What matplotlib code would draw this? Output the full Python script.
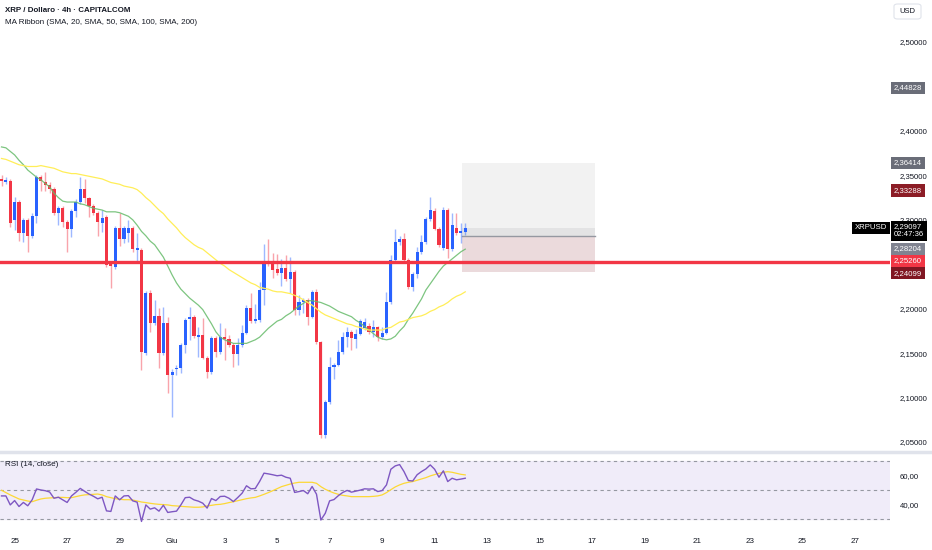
import matplotlib
matplotlib.use("Agg")
import matplotlib.pyplot as plt
import matplotlib.transforms as mtransforms
from matplotlib.lines import Line2D
from matplotlib.patches import Rectangle, FancyBboxPatch

plt.rcParams['font.family'] = ['Liberation Sans', 'DejaVu Sans']

# ---------------- data ----------------
opens = [2.346, 2.343, 2.344, 2.300, 2.320, 2.285, 2.300, 2.282, 2.304, 2.348,
         2.343, 2.339, 2.335, 2.308, 2.313, 2.298, 2.290, 2.310, 2.320, 2.335,
         2.324, 2.316, 2.308, 2.296, 2.303, 2.252, 2.247, 2.291, 2.278, 2.285,
         2.291, 2.266, 2.266, 2.150, 2.218, 2.184, 2.192, 2.150, 2.184, 2.125,
         2.132, 2.133, 2.159, 2.188, 2.191, 2.168, 2.170, 2.145, 2.129, 2.167,
         2.151, 2.168, 2.166, 2.159, 2.149, 2.159, 2.173, 2.201, 2.186, 2.187,
         2.221, 2.252, 2.251, 2.245, 2.240, 2.246, 2.233, 2.241, 2.198, 2.207,
         2.210, 2.191, 2.219, 2.162, 2.058, 2.095, 2.134, 2.137, 2.151, 2.168,
         2.174, 2.166, 2.172, 2.178, 2.180, 2.174, 2.179, 2.168, 2.173, 2.207,
         2.255, 2.275, 2.278, 2.255, 2.224, 2.239, 2.264, 2.275, 2.301, 2.310,
         2.290, 2.268, 2.311, 2.267, 2.291, 2.285, 2.286]
highs = [2.350, 2.348, 2.346, 2.326, 2.322, 2.302, 2.302, 2.308, 2.350, 2.350,
         2.354, 2.342, 2.337, 2.316, 2.315, 2.300, 2.312, 2.323, 2.348, 2.346,
         2.326, 2.318, 2.310, 2.311, 2.305, 2.254, 2.293, 2.308, 2.293, 2.300,
         2.293, 2.285, 2.268, 2.220, 2.221, 2.210, 2.201, 2.202, 2.191, 2.132,
         2.137, 2.161, 2.189, 2.202, 2.193, 2.179, 2.190, 2.147, 2.169, 2.169,
         2.184, 2.178, 2.170, 2.161, 2.167, 2.182, 2.204, 2.218, 2.205, 2.230,
         2.273, 2.278, 2.263, 2.261, 2.256, 2.260, 2.258, 2.243, 2.215, 2.212,
         2.212, 2.221, 2.222, 2.164, 2.097, 2.146, 2.139, 2.165, 2.174, 2.179,
         2.176, 2.177, 2.188, 2.189, 2.184, 2.187, 2.181, 2.179, 2.219, 2.260,
         2.290, 2.282, 2.285, 2.257, 2.241, 2.269, 2.283, 2.303, 2.326, 2.313,
         2.292, 2.314, 2.313, 2.308, 2.308, 2.296, 2.296]
lows = [2.338, 2.340, 2.292, 2.289, 2.276, 2.275, 2.264, 2.280, 2.296, 2.332,
        2.332, 2.330, 2.305, 2.294, 2.292, 2.264, 2.281, 2.303, 2.318, 2.319,
        2.303, 2.305, 2.282, 2.286, 2.247, 2.223, 2.245, 2.270, 2.274, 2.275,
        2.264, 2.252, 2.131, 2.148, 2.174, 2.182, 2.133, 2.148, 2.105, 2.078,
        2.125, 2.128, 2.150, 2.165, 2.167, 2.146, 2.143, 2.122, 2.127, 2.146,
        2.149, 2.142, 2.157, 2.134, 2.137, 2.157, 2.171, 2.184, 2.184, 2.185,
        2.204, 2.248, 2.235, 2.238, 2.226, 2.231, 2.218, 2.193, 2.193, 2.195,
        2.182, 2.189, 2.160, 2.055, 2.055, 2.093, 2.121, 2.135, 2.149, 2.157,
        2.153, 2.156, 2.170, 2.176, 2.172, 2.168, 2.164, 2.166, 2.171, 2.205,
        2.251, 2.272, 2.253, 2.222, 2.220, 2.235, 2.262, 2.273, 2.299, 2.288,
        2.269, 2.266, 2.257, 2.265, 2.283, 2.274, 2.283]
closes = [2.344, 2.345, 2.296, 2.320, 2.285, 2.300, 2.282, 2.304, 2.348, 2.344,
          2.339, 2.335, 2.308, 2.313, 2.297, 2.290, 2.310, 2.320, 2.335, 2.325,
          2.316, 2.308, 2.297, 2.302, 2.249, 2.248, 2.291, 2.278, 2.291, 2.291,
          2.267, 2.268, 2.151, 2.218, 2.184, 2.192, 2.150, 2.184, 2.125, 2.129,
          2.133, 2.159, 2.187, 2.191, 2.169, 2.170, 2.145, 2.129, 2.167, 2.151,
          2.168, 2.166, 2.159, 2.149, 2.159, 2.173, 2.201, 2.186, 2.188, 2.221,
          2.251, 2.250, 2.243, 2.240, 2.246, 2.233, 2.241, 2.198, 2.207, 2.210,
          2.191, 2.219, 2.162, 2.058, 2.095, 2.134, 2.137, 2.151, 2.168, 2.174,
          2.167, 2.172, 2.186, 2.185, 2.174, 2.179, 2.168, 2.173, 2.207, 2.255,
          2.275, 2.278, 2.255, 2.224, 2.239, 2.264, 2.275, 2.301, 2.311, 2.290,
          2.272, 2.311, 2.267, 2.294, 2.285, 2.287, 2.291]

sma20 = [2.382, 2.381, 2.377, 2.373, 2.367, 2.362, 2.356, 2.352, 2.348, 2.345,
         2.341, 2.337, 2.330, 2.325, 2.321, 2.320, 2.320, 2.320, 2.318, 2.317,
         2.315, 2.313, 2.312, 2.311, 2.309, 2.309, 2.309, 2.308, 2.306, 2.304,
         2.300, 2.294, 2.287, 2.282, 2.276, 2.272, 2.265, 2.258, 2.248, 2.238,
         2.229, 2.222, 2.217, 2.212, 2.208, 2.204, 2.199, 2.191, 2.183, 2.174,
         2.168, 2.165, 2.163, 2.161, 2.161, 2.161, 2.161, 2.163, 2.165, 2.168,
         2.173, 2.178, 2.182, 2.186, 2.188, 2.192, 2.195, 2.199, 2.203, 2.206,
         2.209, 2.209, 2.208, 2.207, 2.205, 2.203, 2.200, 2.197, 2.195, 2.193,
         2.191, 2.187, 2.184, 2.180, 2.176, 2.172, 2.168, 2.166, 2.165, 2.166,
         2.169, 2.175, 2.180, 2.188, 2.195, 2.203, 2.211, 2.221, 2.228, 2.235,
         2.242, 2.248, 2.252, 2.256, 2.260, 2.264, 2.267]
sma50 = [2.369, 2.368, 2.366, 2.364, 2.362, 2.361, 2.360, 2.360, 2.360, 2.361,
         2.360, 2.359, 2.358, 2.356, 2.354, 2.353, 2.352, 2.352, 2.351, 2.350,
         2.349, 2.348, 2.347, 2.346, 2.344, 2.342, 2.341, 2.340, 2.338, 2.337,
         2.336, 2.334, 2.330, 2.325, 2.321, 2.316, 2.311, 2.307, 2.301, 2.296,
         2.291, 2.285, 2.280, 2.276, 2.272, 2.269, 2.267, 2.263, 2.259, 2.255,
         2.251, 2.248, 2.244, 2.241, 2.238, 2.235, 2.232, 2.229, 2.227, 2.224,
         2.223, 2.222, 2.220, 2.219, 2.219, 2.218, 2.217, 2.215, 2.213, 2.210,
         2.207, 2.204, 2.200, 2.196, 2.193, 2.191, 2.189, 2.187, 2.185, 2.183,
         2.182, 2.180, 2.179, 2.177, 2.176, 2.176, 2.176, 2.176, 2.178, 2.179,
         2.182, 2.185, 2.186, 2.188, 2.190, 2.191, 2.192, 2.194, 2.197, 2.199,
         2.202, 2.204, 2.207, 2.211, 2.214, 2.216, 2.219]

rsi = [45.9, 45.9, 39.7, 42.7, 38.6, 41.4, 39.1, 43.2, 50.7, 50.0,
       49.5, 48.6, 44.3, 45.0, 43.2, 41.4, 45.9, 48.4, 51.1, 49.1,
       47.2, 45.7, 43.9, 45.0, 35.6, 35.2, 45.9, 43.2, 45.9, 46.1,
       42.5, 41.6, 28.3, 39.7, 36.8, 37.7, 35.4, 39.5, 34.5, 35.0,
       35.4, 39.7, 44.7, 45.0, 43.2, 42.3, 40.9, 37.5, 44.1, 42.7,
       45.5, 45.7, 44.3, 42.0, 44.8, 47.8, 52.9, 50.8, 51.0, 55.9,
       61.6, 61.1, 60.5, 59.8, 60.2, 58.8, 58.1, 48.3, 48.9, 49.6,
       47.4, 52.4, 47.1, 29.3, 33.9, 42.5, 43.4, 46.1, 48.3, 49.7,
       48.5, 49.2, 49.9, 50.8, 50.6, 50.8, 48.9, 49.6, 53.5, 64.3,
       66.6, 67.5, 62.7, 56.5, 56.2, 60.5, 62.7, 64.5, 67.3, 64.3,
       58.8, 63.2, 55.8, 58.1, 57.0, 57.5, 58.1]
rsi_ma = [49.8, 48.2, 46.6, 45.2, 43.8, 43.1, 42.4, 41.9, 42.9, 43.8,
          44.3, 44.5, 44.7, 44.9, 44.9, 44.7, 44.7, 45.4, 46.1, 46.6,
          46.8, 47.0, 47.2, 46.6, 45.4, 44.7, 44.0, 43.6, 43.3, 43.3,
          43.1, 42.4, 41.7, 41.3, 40.8, 40.4, 40.1, 39.9, 39.7, 39.2,
          39.0, 38.7, 38.5, 38.3, 38.1, 38.1, 38.3, 39.0, 39.4, 39.9,
          40.1, 40.6, 41.3, 41.9, 42.6, 43.3, 44.0, 44.5, 44.9, 45.9,
          47.0, 48.2, 49.5, 50.9, 52.3, 53.2, 54.1, 54.8, 55.3, 55.3,
          55.3, 55.3, 54.6, 52.3, 50.5, 49.1, 47.9, 47.0, 46.3, 45.9,
          45.4, 45.4, 45.4, 45.4, 45.4, 45.6, 45.9, 46.6, 48.2, 50.2,
          52.1, 53.5, 54.6, 55.3, 55.8, 56.7, 57.6, 58.5, 59.7, 60.6,
          61.5, 62.2, 62.6, 62.2, 61.5, 60.8, 60.4]

tick_pos = [3, 15, 27, 39, 51, 63, 75, 87, 99, 111, 123, 135, 147, 159, 171, 183, 195]
tick_labels = ["25", "27", "29", "Giu", "3", "5", "7", "9", "11", "13", "15",
               "17", "19", "21", "23", "25", "27"]

price_ticks = [2.05, 2.10, 2.15, 2.20, 2.30, 2.35, 2.40, 2.50]
support_level = 2.25260
last_price = 2.29097
entry_price = 2.28204
target_price = 2.36414
stop_price = 2.24099
other_label_a = 2.44828
other_label_b = 2.33288
tool_start, tool_end = 105.3, 135.7

# ---------------- figure ----------------
W, H = 932, 550
fig = plt.figure(figsize=(W / 100, H / 100), dpi=100)
fig.patch.set_facecolor('white')

ax = fig.add_axes([0, (H - 452) / H, 890 / W, 452 / H])
axr = fig.add_axes([0, (H - 530) / H, 890 / W, 77 / H])

BLUE = '#2962FF'
RED = '#F23645'
TXT = '#131722'
LFS = 5.6

x = list(range(len(opens)))
up = [c >= o for o, c in zip(opens, closes)]
cols = [BLUE if u else RED for u in up]
bottoms = [min(o, c) for o, c in zip(opens, closes)]
heights = [max(abs(c - o), 0.0012) for o, c in zip(opens, closes)]

ax.vlines(x, lows, highs, colors=cols, linewidth=1.0, alpha=0.45, zorder=3)
ax.bar(x, heights, bottom=bottoms, width=0.72, color=cols, linewidth=0, zorder=4)

ax.plot(x, sma20, color='#66BB6A', linewidth=0.9, alpha=0.85, zorder=5)
ax.plot(x, sma50, color='#FFEE58', linewidth=0.9, zorder=5)

# position tool
ax.add_patch(Rectangle((tool_start, entry_price), tool_end - tool_start,
                       target_price - entry_price, facecolor='#F2F2F2',
                       edgecolor='none', zorder=1))
ax.add_patch(Rectangle((tool_start, entry_price), tool_end - tool_start,
                       last_price - entry_price, facecolor='#E3E3E4',
                       edgecolor='none', zorder=1.5))
ax.add_patch(Rectangle((tool_start, stop_price), tool_end - tool_start,
                       entry_price - stop_price, facecolor='#EBDADC',
                       edgecolor='none', zorder=1))
ax.plot([tool_start, tool_end], [entry_price, entry_price], color='#9598A1',
        linewidth=1.0, zorder=2)

ax.axhline(support_level, color=RED, linewidth=2.4, zorder=6)

ax.set_xlim(-0.343, 203.09)
ax.set_ylim(2.0388, 2.5473)
for s in ax.spines.values():
    s.set_visible(False)
ax.set_xticks([])
ax.yaxis.tick_right()
ax.set_yticks(price_ticks)
ax.set_yticklabels([f"{p:.5f}".replace('.', ',') for p in price_ticks])
ax.tick_params(axis='y', length=0, pad=7, labelsize=LFS, labelcolor=TXT)

trans = mtransforms.blended_transform_factory(ax.transAxes, ax.transData)


def plabel(val, fc, dy=0, text=None):
    t = text if text is not None else f"{val:.5f}".replace('.', ',')
    ax.annotate(t, xy=(1, val), xycoords=trans, xytext=(4, dy),
                textcoords='offset pixels', ha='left', va='center',
                fontsize=LFS, color='white', zorder=20, annotation_clip=False,
                bbox=dict(boxstyle='square,pad=0.35', fc=fc, ec='none'))


plabel(other_label_a, '#6A6D78')
plabel(target_price, '#6A6D78')
plabel(other_label_b, '#8C1D26')
plabel(entry_price, '#808390', dy=-13)
plabel(support_level, RED, dy=1)
plabel(stop_price, '#801622', dy=-1)
ax.annotate(f"{last_price:.5f}".replace('.', ',') + "\n02:47:36", xy=(1, last_price),
            xycoords=trans, xytext=(4, -3), textcoords='offset pixels',
            ha='left', va='center', fontsize=LFS, color='white', zorder=21,
            annotation_clip=False, linespacing=1.2,
            bbox=dict(boxstyle='square,pad=0.35', fc='black', ec='none'))
ax.annotate("XRPUSD", xy=(1, last_price), xycoords=trans, xytext=(-3, 0),
            textcoords='offset pixels', ha='right', va='center', fontsize=LFS,
            color='white', zorder=21, annotation_clip=False,
            bbox=dict(boxstyle='square,pad=0.35', fc='black', ec='none'))

# titles
fig.text(5 / W, 1 - 11 / H, "XRP / Dollaro · 4h · CAPITALCOM", fontsize=5.7,
         color=TXT, fontweight='bold', va='center', ha='left')
fig.text(5 / W, 1 - 23 / H, "MA Ribbon (SMA, 20, SMA, 50, SMA, 100, SMA, 200)",
         fontsize=5.8, color=TXT, va='center', ha='left')
fig.add_artist(FancyBboxPatch((894 / W, 1 - 19 / H), 27 / W, 15 / H,
                              boxstyle='round,pad=0,rounding_size=0.004',
                              transform=fig.transFigure, fc='white',
                              ec='#E0E3EB', lw=0.8))
fig.text(907.5 / W, 1 - 11.5 / H, "USD", fontsize=5.5, color=TXT,
         ha='center', va='center')

# separator
fig.add_artist(Line2D([0, 1], [1 - 452 / H, 1 - 452 / H], transform=fig.transFigure,
                      color='#E0E3EB', linewidth=2.5))

# ---------------- RSI ----------------
axr.axhspan(30, 70, color='#F0ECF9', zorder=0)
for lvl in (30, 50, 70):
    axr.axhline(lvl, color='#9598A1', linewidth=0.8, linestyle=(0, (3, 3)), zorder=1)
axr.plot(x, rsi, color='#7E57C2', linewidth=1.0, zorder=3)
axr.plot(x, rsi_ma, color='#FDD835', linewidth=0.9, zorder=2)
axr.set_xlim(-0.343, 203.09)
axr.set_ylim(22.4, 75.5)
for s in axr.spines.values():
    s.set_visible(False)
axr.yaxis.tick_right()
axr.set_yticks([40, 60])
axr.set_yticklabels(["40,00", "60,00"])
axr.tick_params(axis='y', length=0, pad=7, labelsize=LFS, labelcolor=TXT)
axr.set_xticks(tick_pos)
axr.set_xticklabels(tick_labels)
axr.tick_params(axis='x', length=0, pad=6, labelsize=5.8, labelcolor=TXT)
axr.text(5 / 890, 1 - 12 / 77, "RSI (14, close)", transform=axr.transAxes,
         fontsize=5.8, color=TXT, va='center', ha='left')

fig.savefig("out.png", dpi=100, facecolor='white')
